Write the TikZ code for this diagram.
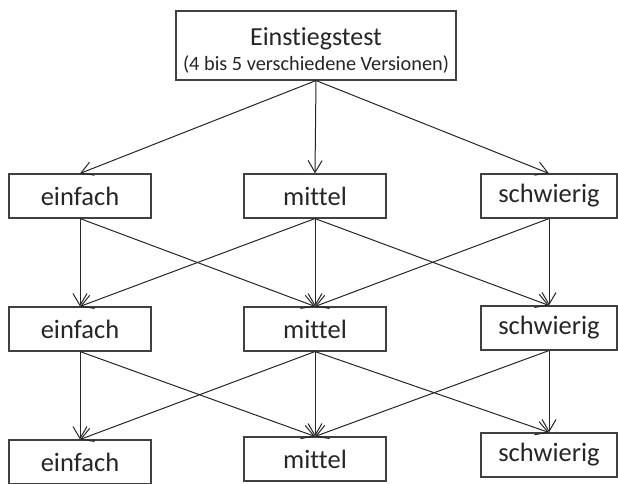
\documentclass[tikz,border=0pt]{standalone}
\usepackage{fontspec}
\setmainfont{Carlito}[Ligatures=NoCommon]
\usetikzlibrary{arrows.meta}
\definecolor{boxline}{RGB}{64,64,64}
\definecolor{txt}{RGB}{38,38,38}
\tikzset{
  lvl/.style={draw=boxline, line width=1.1pt, rectangle, inner sep=0pt,
    minimum width=142pt, minimum height=44pt, text=txt,
    font=\fontsize{26.5}{30}\selectfont},
  lvlnarrow/.style={lvl, minimum width=136pt},
  conn/.style={draw=black!85, line width=1pt, -{Straight Barb[length=12pt,width=14pt]}}
}
\begin{document}
\begin{tikzpicture}[x=1pt,y=-1pt]
\useasboundingbox (0,0) rectangle (618,483);
\clip (0,0) rectangle (618,483);
\fill[white] (0,0) rectangle (618,483);
% top
\node[draw=boxline, line width=1.1pt, rectangle, inner sep=0pt,
      minimum width=280pt, minimum height=69pt, text=txt] (top) at (316,45.5)
  {\raisebox{-5.5pt}[\height][\depth]{\begin{tabular}{@{}c@{}}{\fontsize{26}{27}\selectfont Einstiegstest}\\[6pt]{\fontsize{20.3}{25}\selectfont (4 bis 5 verschiedene Versionen)}\end{tabular}}};
% row 1
\node[lvl] (e1) at (80,196) {einfach};
\node[lvl] (m1) at (315,196) {mittel};
\node[lvlnarrow] (s1) at (549,196) {schwierig};
% row 2
\node[lvl] (e2) at (80,329) {einfach};
\node[lvl] (m2) at (315,329) {mittel};
\node[lvlnarrow] (s2) at (549,328) {schwierig};
% row 3
\node[lvl] (e3) at (80,462) {einfach};
\node[lvl] (m3) at (315,459) {mittel};
\node[lvlnarrow] (s3) at (549,455) {schwierig};
% connectors
\draw[conn] (top.south) -- (e1.north);
\draw[conn] (top.south) -- (m1.north);
\draw[conn] (top.south) -- (s1.north);
\foreach \a/\b in {1/2,2/3}{
  \draw[conn] (e\a.south) -- (e\b.north);
  \draw[conn] (e\a.south) -- (m\b.north);
  \draw[conn] (m\a.south) -- (e\b.north);
  \draw[conn] (m\a.south) -- (m\b.north);
  \draw[conn] (m\a.south) -- (s\b.north);
  \draw[conn] (s\a.south) -- (m\b.north);
  \draw[conn] (s\a.south) -- (s\b.north);
}
\end{tikzpicture}
\end{document}
